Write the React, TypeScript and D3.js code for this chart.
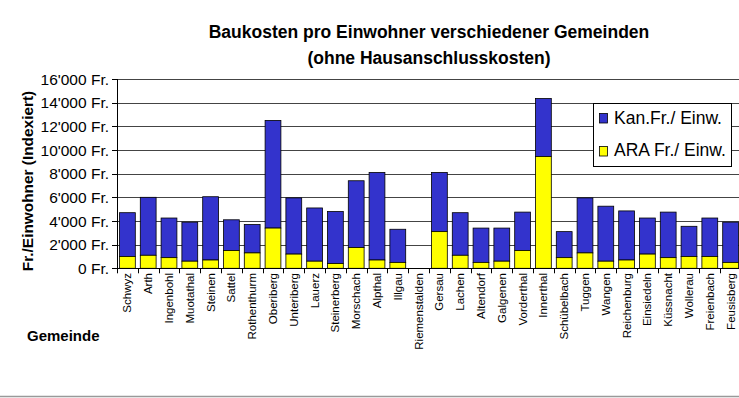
import React, { useEffect, useRef } from 'react';
import * as d3 from 'd3';

const gemeinden = [
  'Schwyz', 'Arth', 'Ingenbohl', 'Muotathal', 'Steinen', 'Sattel', 'Rothenthurm', 'Oberiberg',
  'Unteriberg', 'Lauerz', 'Steinerberg', 'Morschach', 'Alpthal', 'Illgau', 'Riemenstalden',
  'Gersau', 'Lachen', 'Altendorf', 'Galgenen', 'Vorderthal', 'Innerthal', 'Schübelbach',
  'Tuggen', 'Wangen', 'Reichenburg', 'Einsiedeln', 'Küssnacht', 'Wollerau', 'Freienbach', 'Feusisberg',
];

// ARA Fr./Einw. (unterer Teil)
const ara = [
  1000, 1100, 900, 600, 700, 1500, 1300, 3400,
  1200, 600, 400, 1750, 700, 500, 0,
  3100, 1100, 500, 600, 1500, 9450, 900,
  1300, 600, 700, 1200, 900, 1000, 1000, 500,
];

// Gesamt (Kan. + ARA), Kan. = total - ara
const total = [
  4700, 6000, 4250, 3900, 6050, 4100, 3700, 12500,
  5950, 5100, 4800, 7400, 8100, 3300, 0,
  8100, 4700, 3400, 3400, 4750, 14350, 3100,
  5950, 5250, 4850, 4250, 4750, 3550, 4250, 3900,
];

const yTicks = [0, 2000, 4000, 6000, 8000, 10000, 12000, 14000, 16000];

const seriesNames = ['Kan.Fr./ Einw.', 'ARA Fr./ Einw.'];
const colors = ['#3333CC', '#FFFF00'];

const fmt = (v: number) => {
  const s = String(v);
  return (s.length > 3 ? s.slice(0, -3) + "'" + s.slice(-3) : s) + ' Fr.';
};

export default function App() {
  const ref = useRef<SVGSVGElement>(null);

  useEffect(() => {
    const svg = d3.select(ref.current);
    svg.selectAll('*').remove();
    const font = "'Liberation Sans', Arial, sans-serif";

    // Plot-Bereich
    const left = 117, right = 741, top = 79, bottom = 268.3;

    const x = d3.scaleBand().domain(gemeinden).range([left, right]).paddingInner(0.24).paddingOuter(0.12);
    const xb = d3.scaleLinear().domain([0, gemeinden.length]).range([left, right]);
    const y = d3.scaleLinear().domain([0, 16000]).range([bottom, top]);

    const data = gemeinden.map((g, i) => ({ g, ara: ara[i], kan: total[i] - ara[i] }));
    const stack = d3.stack<any>().keys(['kan', 'ara']).order(d3.stackOrderReverse)(data);

    // Titel
    svg.append('text').attr('x', (left + right) / 2).attr('y', 38).attr('text-anchor', 'middle')
      .style('font-family', font).style('font-weight', 'bold').style('font-size', '17.5px')
      .text('Baukosten pro Einwohner verschiedener Gemeinden');
    svg.append('text').attr('x', (left + right) / 2).attr('y', 64).attr('text-anchor', 'middle')
      .style('font-family', font).style('font-weight', 'bold').style('font-size', '17.5px')
      .text('(ohne Hausanschlusskosten)');

    // Gitterlinien
    svg.append('g').selectAll('line').data(yTicks.slice(1)).join('line')
      .attr('x1', left).attr('x2', right)
      .attr('y1', d => Math.round(y(d)) + 0.5).attr('y2', d => Math.round(y(d)) + 0.5)
      .attr('stroke', '#444').attr('stroke-width', 1);

    // Balken
    svg.append('g').selectAll('g').data(stack).join('g')
      .attr('fill', d => (d.key === 'kan' ? colors[0] : colors[1]))
      .selectAll('rect').data(d => d.filter(s => s[1] - s[0] > 0)).join('rect')
      .attr('x', d => x(d.data.g)!)
      .attr('width', x.bandwidth())
      .attr('y', d => y(d[1]))
      .attr('height', d => y(d[0]) - y(d[1]))
      .attr('stroke', '#000').attr('stroke-width', 0.8);

    // Y-Achse
    svg.append('line').attr('x1', left + 0.5).attr('x2', left + 0.5).attr('y1', top).attr('y2', bottom)
      .attr('stroke', '#000');
    const yg = svg.append('g');
    yg.selectAll('line').data(yTicks).join('line')
      .attr('x1', left - 5).attr('x2', left)
      .attr('y1', d => Math.round(y(d)) + 0.5).attr('y2', d => Math.round(y(d)) + 0.5)
      .attr('stroke', '#000');
    yg.selectAll('text').data(yTicks).join('text')
      .attr('x', 109).attr('y', d => y(d)).attr('dy', '0.36em').attr('text-anchor', 'end')
      .style('font-family', font).style('font-size', '15.5px')
      .text(d => fmt(d));

    // X-Achse
    svg.append('line').attr('x1', left).attr('x2', right).attr('y1', Math.round(bottom) + 0.5).attr('y2', Math.round(bottom) + 0.5)
      .attr('stroke', '#000');
    svg.append('g').selectAll('line').data(d3.range(gemeinden.length + 1)).join('line')
      .attr('x1', d => Math.round(xb(d)) + 0.5).attr('x2', d => Math.round(xb(d)) + 0.5)
      .attr('y1', bottom).attr('y2', bottom + 5)
      .attr('stroke', '#000');
    svg.append('g').selectAll('text').data(gemeinden).join('text')
      .attr('transform', d => `translate(${x(d)! + x.bandwidth() / 2},273) rotate(-90)`)
      .attr('dy', '0.35em').attr('text-anchor', 'end')
      .style('font-family', font).style('font-size', '11.5px')
      .text(d => d);

    // Achsentitel
    svg.append('text').attr('transform', 'translate(33,181) rotate(-90)').attr('text-anchor', 'middle')
      .style('font-family', font).style('font-weight', 'bold').style('font-size', '15.4px')
      .text('Fr./Einwohner (Indexiert)');
    svg.append('text').attr('x', 27).attr('y', 341)
      .style('font-family', font).style('font-weight', 'bold').style('font-size', '15px')
      .text('Gemeinde');

    // Legende
    const lg = svg.append('g');
    lg.append('rect').attr('x', 593.5).attr('y', 103.5).attr('width', 138).attr('height', 63)
      .attr('fill', '#fff').attr('stroke', '#000');
    seriesNames.forEach((name, i) => {
      lg.append('rect').attr('x', 599.5).attr('y', 113.5 + i * 33).attr('width', 8).attr('height', 9.5)
        .attr('fill', colors[i]).attr('stroke', '#000').attr('stroke-width', 0.8);
      lg.append('text').attr('x', 614).attr('y', 123.5 + i * 32)
        .style('font-family', font).style('font-size', '17.5px')
        .text(name);
    });

    // Trennlinie unten
    svg.append('line').attr('x1', 0).attr('x2', 739).attr('y1', 396.5).attr('y2', 396.5)
      .attr('stroke', '#999').attr('stroke-width', 1.5);
  }, []);

  return (
    <svg ref={ref} width={739} height={398}
      style={{ position: 'absolute', left: 0, top: 0, background: '#fff' }} />
  );
}
